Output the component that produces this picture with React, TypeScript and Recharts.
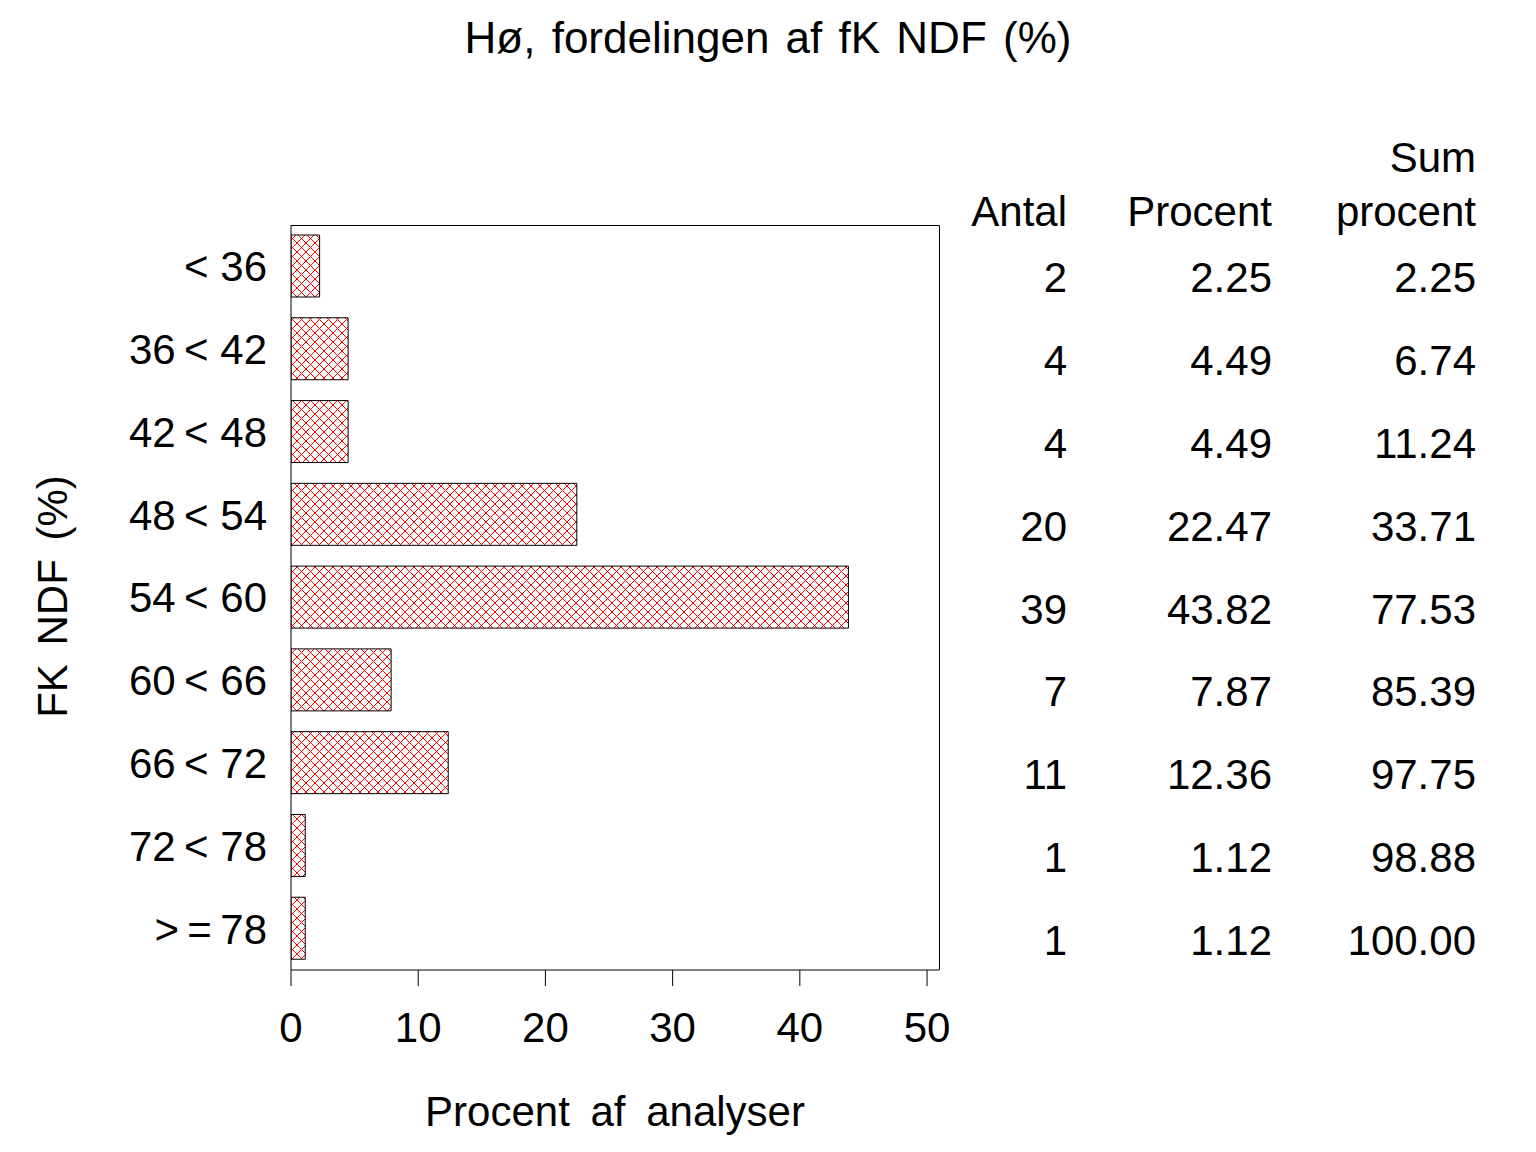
import { Bar, BarChart, XAxis, YAxis } from "recharts";

const categories = ["< 36", "36\u2009< 42", "42\u2009< 48", "48\u2009< 54", "54\u2009< 60", "60\u2009< 66", "66\u2009< 72", "72\u2009< 78", ">\u2009=\u200978"];
const antal = [2, 4, 4, 20, 39, 7, 11, 1, 1];
const procent = [2.25, 4.49, 4.49, 22.47, 43.82, 7.87, 12.36, 1.12, 1.12];
const sumProcent = [2.25, 6.74, 11.24, 33.71, 77.53, 85.39, 97.75, 98.88, 100.0];
const xTicks = [0, 10, 20, 30, 40, 50];

const data = categories.map((label, i) => ({ label, procent: procent[i] }));

const FONT = "'Liberation Sans', Arial, Helvetica, sans-serif";
const W = 1536;
const H = 1152;
const PLOT_TOP = 225;
const PLOT_LEFT = 291;
const PLOT_RIGHT = 939;
const PLOT_BOTTOM = 970;
const ROW = (PLOT_BOTTOM - PLOT_TOP) / categories.length;

const tableCols = [
  { right: 1067, header: ["", "Antal"], values: antal.map((v) => String(v)) },
  { right: 1272, header: ["", "Procent"], values: procent.map((v) => v.toFixed(2)) },
  { right: 1476, header: ["Sum", "procent"], values: sumProcent.map((v) => v.toFixed(2)) },
];

export default function App() {
  return (
    <div style={{ position: "absolute", left: 0, top: 0, width: W, height: H, background: "#fff" }}>
      <BarChart
        width={W}
        height={H}
        data={data}
        layout="vertical"
        margin={{ top: PLOT_TOP, right: W - PLOT_RIGHT, bottom: 0, left: 0 }}
        barSize={62}
      >
        <defs>
          <pattern id="xhatch" patternUnits="userSpaceOnUse" width={9} height={9}>
            <path d="M0,0 L9,9 M9,0 L0,9" stroke="#ff0000" strokeWidth={1} />
          </pattern>
        </defs>
        <XAxis
          type="number"
          domain={[0, 50.94]}
          ticks={xTicks}
          allowDataOverflow
          height={H - PLOT_BOTTOM}
          tickSize={16}
          tickMargin={26}
          axisLine={{ stroke: "#000" }}
          tickLine={{ stroke: "#000" }}
          tick={{ fill: "#000", fontSize: 42, fontFamily: FONT }}
        />
        <YAxis
          type="category"
          dataKey="label"
          width={PLOT_LEFT}
          tickSize={0}
          tickMargin={24}
          tickLine={false}
          axisLine={{ stroke: "#000" }}
          tick={{ fill: "#000", fontSize: 42, fontFamily: FONT }}
        />
        <Bar dataKey="procent" fill="url(#xhatch)" stroke="#000" strokeWidth={1} isAnimationActive={false} />
      </BarChart>
      <svg
        width={W}
        height={H}
        style={{ position: "absolute", left: 0, top: 0, pointerEvents: "none" }}
        fontFamily={FONT}
        fill="#000"
      >
        {/* frame: top and right sides of the plot box */}
        <path
          d={`M${PLOT_LEFT},${PLOT_TOP + 0.5} H${PLOT_RIGHT + 0.5} V${PLOT_BOTTOM}`}
          stroke="#000"
          strokeWidth={1}
          fill="none"
        />
        <text x={768} y={53} fontSize={44} textAnchor="middle" style={{ wordSpacing: 4 }}>
          Hø, fordelingen af fK NDF (%)
        </text>
        <text x={(PLOT_LEFT + PLOT_RIGHT) / 2} y={1126} fontSize={42} textAnchor="middle" style={{ wordSpacing: 9 }}>
          Procent af analyser
        </text>
        <text
          transform={`translate(67, ${(475 + 718) / 2}) rotate(-90)`}
          fontSize={42}
          textAnchor="middle"
          style={{ wordSpacing: 7 }}
        >
          FK NDF (%)
        </text>
        {tableCols.map((col) => (
          <g key={col.right}>
            <text x={col.right} y={172} fontSize={42} textAnchor="end">
              {col.header[0]}
            </text>
            <text x={col.right} y={226} fontSize={42} textAnchor="end">
              {col.header[1]}
            </text>
            {col.values.map((v, i) => (
              <text key={i} x={col.right} y={PLOT_TOP + ROW * i + ROW / 2 + 26} fontSize={42} textAnchor="end">
                {v}
              </text>
            ))}
          </g>
        ))}
      </svg>
    </div>
  );
}
